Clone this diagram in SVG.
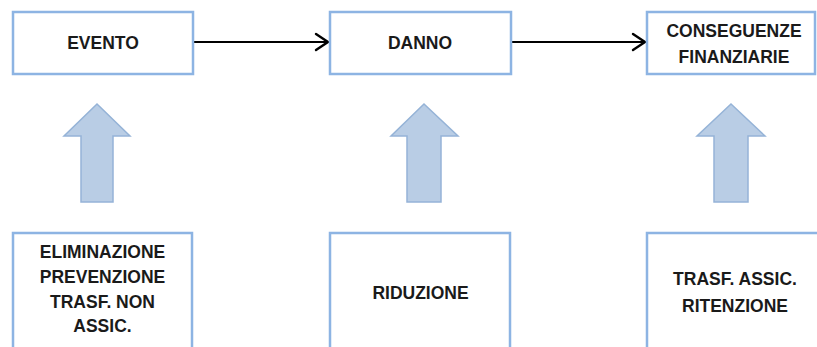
<svg xmlns="http://www.w3.org/2000/svg" width="817" height="347" viewBox="0 0 817 347">
<defs>
<style>
.box{fill:#ffffff;stroke:#8db4e3;stroke-width:2.5}
.lbl{font-family:"Liberation Sans",Arial,sans-serif;font-weight:bold;font-size:17.5px;fill:#1a1a1a;text-anchor:middle}
.conn{stroke:#000;stroke-width:2.2;fill:none}
.blk{fill:#b9cde5;stroke:#95b3d7;stroke-width:1.5}
</style>
<marker id="open" viewBox="0 0 16 20" refX="14" refY="10" markerWidth="16" markerHeight="20" markerUnits="userSpaceOnUse" orient="auto">
<path d="M2,2 L14,10 L2,18" fill="none" stroke="#000" stroke-width="2.4" stroke-linecap="round" stroke-linejoin="round"/>
</marker>
</defs>
<rect width="817" height="347" fill="#ffffff"/>
<g id="connectors">
<line class="conn" x1="193" y1="42" x2="328" y2="42" marker-end="url(#open)"/>
<line class="conn" x1="511" y1="42" x2="645" y2="42" marker-end="url(#open)"/>
</g>
<g id="evento">
<rect class="box" x="13" y="12" width="180" height="62"/>
<text class="lbl" x="103" y="49">EVENTO</text>
</g>
<g id="danno">
<rect class="box" x="330" y="12" width="181" height="62"/>
<text class="lbl" x="420" y="49">DANNO</text>
</g>
<g id="conseguenze">
<rect class="box" x="647" y="12" width="168" height="62"/>
<text class="lbl" x="734" y="37">CONSEGUENZE</text>
<text class="lbl" x="734" y="63">FINANZIARIE</text>
</g>
<g id="arrow1">
<path class="blk" d="M97,104 L130,136 L113,136 L113,202 L81,202 L81,136 L64,136 Z"/>
</g>
<g id="arrow2">
<path class="blk" d="M424,104 L458,136 L441,136 L441,202 L407,202 L407,136 L391,136 Z"/>
</g>
<g id="arrow3">
<path class="blk" d="M731,104 L765,136 L748,136 L748,202 L714,202 L714,136 L697,136 Z"/>
</g>
<g id="eliminazione">
<rect class="box" x="13" y="233" width="179" height="130"/>
<text class="lbl" x="102.5" y="258">ELIMINAZIONE</text>
<text class="lbl" x="102.5" y="283">PREVENZIONE</text>
<text class="lbl" x="102.5" y="308">TRASF. NON</text>
<text class="lbl" x="102.5" y="332">ASSIC.</text>
</g>
<g id="riduzione">
<rect class="box" x="330" y="233" width="180" height="130"/>
<text class="lbl" x="420.5" y="299">RIDUZIONE</text>
</g>
<g id="trasferimento">
<rect class="box" x="647" y="233" width="180" height="130"/>
<text class="lbl" x="735" y="285">TRASF. ASSIC.</text>
<text class="lbl" x="735" y="312">RITENZIONE</text>
</g>
</svg>
